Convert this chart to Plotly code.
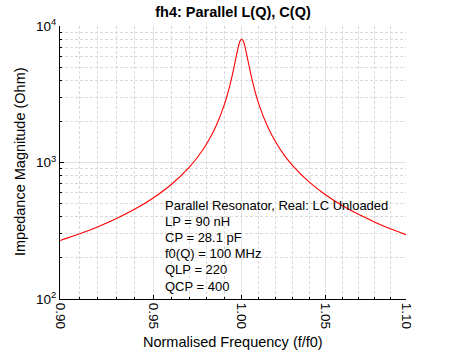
import math
import plotly.graph_objects as go

# Normalised frequency (f/f0) and impedance magnitude (Ohm)
freq = [0.90, 0.91, 0.92, 0.93, 0.94, 0.95, 0.96, 0.97, 0.975, 0.98, 0.985,
        0.99, 0.993, 0.995, 0.996, 0.997, 0.998, 0.999, 1.000, 1.001, 1.002,
        1.003, 1.004, 1.005, 1.007, 1.01, 1.015, 1.02, 1.025, 1.03, 1.04,
        1.05, 1.06, 1.07, 1.08, 1.09, 1.10]
zmag = [268, 299, 338, 389, 456, 550, 690, 922, 1106, 1379, 1822,
        2655, 3597, 4615, 5299, 6108, 6979, 7723, 8029, 7724, 6983,
        6115, 5311, 4631, 3618, 2678, 1848, 1406, 1133, 950, 718,
        578, 484, 417, 367, 327, 296]

x_ticks = [0.90, 0.95, 1.00, 1.05, 1.10]
x_ticklabels = ["0.90", "0.95", "1.00", "1.05", "1.10"]
x_minor = [0.91, 0.92, 0.93, 0.94, 0.96, 0.97, 0.98, 0.99,
           1.01, 1.02, 1.03, 1.04, 1.06, 1.07, 1.08, 1.09]
y_ticks = [100, 1000, 10000]
y_ticklabels = ["10<sup>2</sup>", "10<sup>3</sup>", "10<sup>4</sup>"]
y_minor = [200, 300, 400, 500, 600, 700, 800, 900,
           2000, 3000, 4000, 5000, 6000, 7000, 8000, 9000]

title_text = "fh4: Parallel L(Q), C(Q)"
info_lines = ["Parallel Resonator, Real: LC Unloaded", "LP = 90 nH", "CP = 28.1 pF",
              "f0(Q) = 100 MHz", "QLP = 220", "QCP = 400"]

FONT = "Liberation Sans, Arial, sans-serif"
MAJOR_GRID = "#e2e2e2"
MINOR_GRID = "#dadada"

fig = go.Figure()
fig.add_trace(go.Scatter(x=freq, y=zmag, mode="lines",
                         line=dict(color="#ff0000", width=1.1, shape="spline", smoothing=0.6),
                         showlegend=False, hoverinfo="skip"))

minor_common = dict(ticks="inside", ticklen=2, tickcolor="black",
                    showgrid=True, gridcolor=MINOR_GRID, griddash="3px,2px", gridwidth=1)

fig.update_layout(
    width=450, height=350,
    margin=dict(l=60, r=44, t=26, b=51),
    paper_bgcolor="white", plot_bgcolor="white",
    font=dict(family=FONT, size=12, color="black"),
    title=dict(text="<b>" + title_text + "</b>", x=(60 + 346 / 2) / 450, xanchor="center",
               y=1 - 12 / 350, yanchor="middle", yref="container",
               font=dict(family=FONT, size=14.5, color="black")),
    xaxis=dict(type="log", range=[math.log10(0.9), math.log10(1.1)],
               tickmode="array", tickvals=x_ticks, ticktext=x_ticklabels,
               tickangle=90, ticks="inside", ticklen=4, tickcolor="black",
               showline=True, linecolor="black", linewidth=1, mirror=False,
               showgrid=True, gridcolor=MAJOR_GRID, gridwidth=1,
               tickfont=dict(size=13.5), zeroline=False,
               minor=dict(tickvals=x_minor, **minor_common)),
    yaxis=dict(type="log", range=[2, 4],
               tickmode="array", tickvals=y_ticks, ticktext=y_ticklabels,
               ticks="inside", ticklen=4, tickcolor="black",
               showline=True, linecolor="black", linewidth=1, mirror=False,
               showgrid=True, gridcolor=MAJOR_GRID, gridwidth=1,
               tickfont=dict(size=13.5), zeroline=False,
               minor=dict(tickvals=y_minor, **minor_common)),
)

# info text block, one line per annotation with 16 px spacing
for i, line in enumerate(info_lines):
    yc = 205 + 16.2 * i
    fig.add_annotation(text=line, xref="paper", yref="paper",
                       x=(163 - 60) / 346, y=(299 - yc) / 273, xanchor="left", yanchor="middle",
                       align="left", showarrow=False, font=dict(family=FONT, size=13, color="black"))

fig.add_annotation(text="Normalised Frequency (f/f0)", xref="paper", yref="paper",
                   x=(233 - 60) / 346, y=-(342 - 299) / 273, xanchor="center", yanchor="middle",
                   showarrow=False, font=dict(family=FONT, size=14.5, color="black"))
fig.add_annotation(text="Impedance Magnitude (Ohm)", xref="paper", yref="paper",
                   x=-(60 - 20) / 346, y=(299 - 162) / 273, xanchor="center", yanchor="middle",
                   textangle=-90, showarrow=False, font=dict(family=FONT, size=14.5, color="black"))

fig.write_html("out.html")
